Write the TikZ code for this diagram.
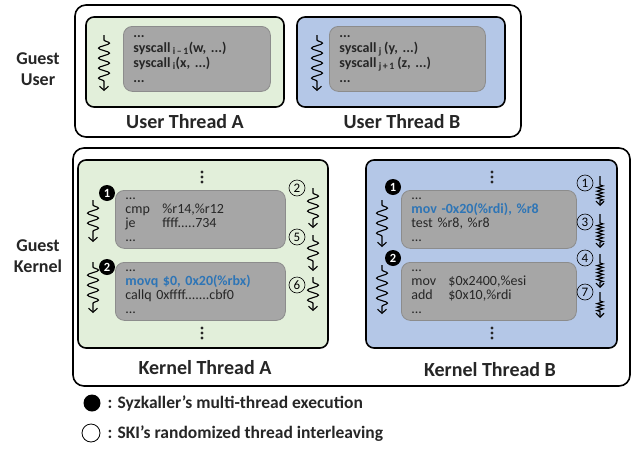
\documentclass[tikz,border=0pt]{standalone}
\usepackage{fontspec}
\setmainfont{Carlito}
\usetikzlibrary{arrows.meta,decorations.pathmorphing}

\definecolor{thrgreen}{RGB}{226,239,218}
\definecolor{thrblue}{RGB}{180,199,231}
\definecolor{codegray}{RGB}{166,166,166}
\definecolor{codeedge}{RGB}{140,140,140}
\definecolor{hlblue}{RGB}{46,117,182}
\definecolor{codetext}{RGB}{38,38,38}

\tikzset{
  outerbox/.style={draw, fill=white, line width=1.6pt, rounded corners=11pt,
    inner sep=0pt, outer sep=0pt, anchor=north west},
  thrbox/.style={draw, line width=1.6pt, rounded corners=8pt,
    inner sep=0pt, outer sep=0pt, anchor=north west},
  codebox/.style={draw=codeedge, fill=codegray, line width=0.8pt, rounded corners=9pt,
    inner xsep=10pt, inner ysep=0pt, anchor=north west, align=left,
    text=codetext, font=\fontsize{14}{14}\selectfont},
  thrlabel/.style={font=\fontsize{20}{24}\selectfont\bfseries, text=black!85},
  sidelabel/.style={font=\fontsize{18}{21}\selectfont\bfseries, align=center, text=black!85},
  blackdot/.style={circle, fill=black, text=white, inner sep=0pt, minimum size=16pt,
    font=\fontsize{12.5}{12}\selectfont\bfseries},
  opendot/.style={circle, draw, line width=0.6pt, inner sep=0pt, minimum size=16pt,
    font=\fontsize{13}{13}\selectfont},
  squig/.style={line width=1.1pt, -{Straight Barb[length=4pt,width=9pt]}, decorate,
    decoration={snake, amplitude=5.5pt, segment length=10pt, pre length=5pt, post length=7pt}},
  squigs/.style={line width=1.1pt, -{Straight Barb[length=4pt,width=8pt]}, decorate,
    decoration={zigzag, amplitude=3pt, segment length=3.5pt, pre length=9pt, post length=5pt}},
  legendtext/.style={font=\fontsize{17.5}{20}\selectfont\bfseries, anchor=west, text=black!85},
}

\begin{document}
\begin{tikzpicture}[x=1pt,y=-1pt]
    \useasboundingbox (0,0) rectangle (632,453);

    % Guest user
    \node[outerbox, minimum width=446, minimum height=132] (userOuter) at (75,5) {};
    \node[thrbox, fill=thrgreen, minimum width=198, minimum height=90] (uThrA) at (86,17) {};
    \node[thrbox, fill=thrblue, minimum width=208, minimum height=90] (uThrB) at (297,17) {};
    \node[codebox, text width=127pt, minimum height=65, font=\fontsize{14}{15}\selectfont\bfseries]
      (uCodeA) at (123,26) {...\\syscall\,\textsubscript{i\,–\,1}(w, ...)\\syscall\,\textsubscript{i}(x, ...)\\...};
    \node[codebox, text width=136pt, minimum height=65, font=\fontsize{14}{15}\selectfont\bfseries]
      (uCodeB) at (329,26) {...\\syscall\,\textsubscript{j}\,(y, ...)\\syscall\,\textsubscript{j\,+\,1}\,(z, ...)\\...};
    \node[thrlabel] (uLblA) at (185,122) {User Thread A};
    \node[thrlabel] (uLblB) at (402,122) {User Thread B};
    \node[sidelabel] (userSide) at (38,69) {Guest\\User};

    % Guest kernel
    \node[outerbox, minimum width=557, minimum height=238] (kernOuter) at (73,148) {};
    \node[thrbox, fill=thrgreen, minimum width=250, minimum height=188] (kThrA) at (78,160) {};
    \node[thrbox, fill=thrblue, minimum width=251, minimum height=188] (kThrB) at (366,160) {};
    \node[thrlabel] (kLblA) at (205,368) {Kernel Thread A};
    \node[thrlabel] (kLblB) at (490,370) {Kernel Thread B};
    \node[sidelabel] (kernSide) at (38,256) {Guest\\Kernel};

    % Code of kernel thread A
    \node[codebox, text width=150pt, minimum height=58] (kCodeA1) at (115,190)
      {...\\\makebox[37pt][l]{cmp}\%r14,\%r12\\\makebox[37pt][l]{je}ffff.....734\\...};
    \node[codebox, text width=150pt, minimum height=58] (kCodeA2) at (115,262)
      {...\\\textcolor{hlblue}{\bfseries movq \$0, 0x20(\%rbx)}\\callq 0xffff.......cbf0\\...};

    % Code of kernel thread B
    \node[codebox, text width=155pt, minimum height=58] (kCodeB1) at (401,190)
      {...\\\textcolor{hlblue}{\bfseries mov -0x20(\%rdi), \%r8}\\test \%r8, \%r8\\...};
    \node[codebox, text width=155pt, minimum height=58] (kCodeB2) at (401,262)
      {...\\\makebox[37pt][l]{mov}\$0x2400,\%esi\\\makebox[37pt][l]{add}\$0x10,\%rdi\\...};

    % More code above and below
    \coordinate (kDotsA1) at (202,177);
    \coordinate (kDotsA2) at (202,333);
    \coordinate (kDotsB1) at (492,177);
    \coordinate (kDotsB2) at (492,333);
    \foreach \c in {kDotsA1,kDotsA2,kDotsB1,kDotsB2}
      \foreach \d in {-5,0,5}
        \fill[black!85] (\c) ++(0,\d) circle (1.6pt);

    % Syzkaller steps
    \node[blackdot] (syzA1) at (107,193) {1};
    \node[blackdot] (syzA2) at (107,267) {2};
    \node[blackdot] (syzB1) at (393,187) {1};
    \node[blackdot] (syzB2) at (393,258) {2};

    % SKI steps
    \node[opendot] (skiA2) at (297,188) {2};
    \node[opendot] (skiA5) at (297,237) {5};
    \node[opendot] (skiA6) at (297,285) {6};
    \node[opendot] (skiB1) at (585,183) {1};
    \node[opendot] (skiB3) at (585,222) {3};
    \node[opendot] (skiB4) at (585,258) {4};
    \node[opendot] (skiB7) at (585,292) {7};

    % Execution flow
    \foreach \nm/\x/\ya/\yb in {uA/104/35/91, uB/317/35/91, kA1/93/200/242, kA2/93/262/313,
        kB1/382/200/247, kB2/382/265/314, kAr1/313/188/228, kAr2/313/235/271, kAr3/313/277/311} {
      \coordinate (\nm s) at (\x,\ya);
      \coordinate (\nm e) at (\x,\yb);
      \draw[squig] (\nm s) -- (\nm e);
    }
    \foreach \nm/\ya/\yb in {kBr1/176/206, kBr3/214/248, kBr4/254/288, kBr7/292/318} {
      \coordinate (\nm s) at (600,\ya);
      \coordinate (\nm e) at (600,\yb);
      \draw[squigs] (\nm s) -- (\nm e);
    }

    % Legend
    \node[circle, fill=black, minimum size=17pt, inner sep=0pt] (legSyz) at (92,403) {};
    \node[circle, draw, line width=0.8pt, minimum size=18pt, inner sep=0pt] (legSki) at (91,433) {};
    \node[legendtext] (legSyzTxt) at (104,404) {: Syzkaller’s multi-thread execution};
    \node[legendtext] (legSkiTxt) at (104,434) {: SKI’s randomized thread interleaving};
\end{tikzpicture}
\end{document}
